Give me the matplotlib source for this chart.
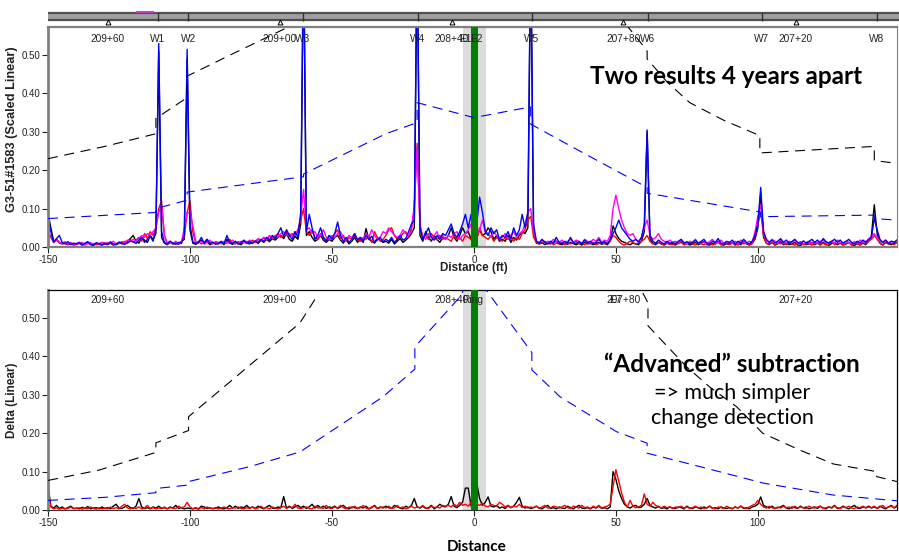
import numpy as np
import matplotlib
matplotlib.use("Agg")
import matplotlib.pyplot as plt

plt.rcParams['font.family'] = ['Liberation Sans', 'DejaVu Sans']
plt.rcParams['axes.unicode_minus'] = False

# distance grid (ft), one sample per foot
dist = np.arange(-150, 150)

# top panel traces, values in 1/1000 (scaled linear)
top_black = [
    88, 50, 15, 20, 12, 8, 10, 6, 9, 5,
    7, 10, 5, 8, 12, 6, 4, 9, 7, 5,
    8, 6, 10, 5, 7, 9, 12, 8, 15, 22,
    30, 15, 10, 25, 18, 12, 30, 20, 35, 510,
    25, 10, 6, 12, 8, 10, 7, 15, 20, 490,
    45, 10, 7, 12, 18, 8, 14, 6, 10, 9,
    8, 12, 6, 20, 10, 7, 12, 9, 6, 14,
    10, 8, 12, 15, 9, 18, 12, 20, 14, 22,
    18, 25, 30, 22, 35, 20, 15, 28, 20, 60,
    780, 30, 40, 25, 15, 20, 30, 18, 12, 20,
    15, 25, 30, 18, 10, 20, 8, 15, 25, 12,
    20, 12, 48, 20, 15, 10, 25, 18, 12, 15,
    10, 20, 8, 15, 22, 12, 18, 25, 35, 50,
    780, 30, 15, 40, 25, 15, 30, 20, 12, 25,
    20, 30, 50, 25, 15, 30, 50, 35, 40, 20,
    10, 25, 45, 30, 35, 50, 40, 20, 30, 15,
    20, 15, 30, 12, 25, 18, 30, 40, 35, 50,
    780, 40, 10, 8, 12, 6, 10, 8, 12, 15,
    8, 6, 10, 7, 12, 9, 6, 10, 5, 12,
    8, 10, 6, 9, 12, 7, 10, 6, 15, 55,
    35, 22, 15, 12, 8, 6, 10, 8, 6, 15,
    40, 300, 20, 10, 6, 12, 8, 5, 10, 7,
    9, 5, 12, 14, 6, 10, 5, 8, 12, 6,
    10, 14, 6, 5, 10, 8, 15, 6, 5, 9,
    8, 12, 5, 10, 6, 14, 8, 5, 10, 20,
    50, 140, 25, 10, 6, 12, 5, 8, 14, 6,
    10, 6, 8, 12, 5, 4, 9, 6, 8, 12,
    6, 10, 5, 12, 8, 4, 9, 12, 6, 10,
    5, 8, 12, 6, 4, 9, 5, 10, 6, 15,
    30, 110, 35, 10, 5, 12, 8, 6, 9, 12,
]
top_blue = [
    75, 40, 12, 22, 30, 12, 8, 14, 6, 10,
    8, 12, 6, 10, 14, 7, 5, 11, 9, 6,
    10, 7, 12, 8, 6, 13, 9, 7, 11, 15,
    14, 9, 18, 25, 12, 20, 28, 15, 45, 530,
    40, 12, 8, 15, 10, 7, 12, 9, 30, 515,
    60, 14, 8, 12, 25, 10, 20, 9, 13, 7,
    10, 14, 8, 30, 12, 9, 15, 8, 11, 18,
    10, 14, 9, 16, 12, 20, 15, 25, 18, 30,
    22, 35, 50, 28, 45, 30, 20, 40, 25, 90,
    800, 40, 85, 50, 20, 30, 50, 25, 15, 30,
    20, 35, 65, 30, 15, 25, 12, 20, 35, 18,
    25, 15, 30, 20, 28, 12, 18, 25, 14, 20,
    15, 25, 12, 20, 30, 18, 22, 40, 60, 70,
    800, 50, 20, 35, 50, 25, 18, 30, 20, 35,
    30, 45, 60, 35, 25, 40, 60, 85, 50, 85,
    10, 60, 130, 90, 40, 30, 50, 35, 45, 20,
    30, 25, 40, 20, 50, 30, 45, 85, 50, 90,
    800, 60, 15, 10, 20, 12, 8, 15, 10, 25,
    12, 8, 15, 10, 25, 12, 9, 14, 8, 18,
    10, 15, 8, 12, 20, 10, 14, 8, 20, 35,
    50, 70, 50, 40, 30, 20, 15, 20, 12, 25,
    60, 305, 30, 15, 10, 18, 12, 8, 15, 10,
    12, 8, 15, 20, 10, 14, 8, 12, 18, 10,
    14, 20, 10, 8, 15, 12, 22, 10, 8, 14,
    12, 18, 8, 15, 10, 20, 12, 8, 15, 30,
    60, 155, 40, 20, 12, 18, 10, 15, 22, 12,
    18, 10, 14, 20, 12, 8, 16, 10, 14, 20,
    12, 18, 10, 22, 14, 10, 15, 20, 12, 18,
    10, 14, 20, 12, 8, 15, 10, 18, 12, 20,
    25, 75, 45, 20, 12, 18, 10, 15, 12, 18,
]
top_red = [
    35, 25, 12, 18, 10, 8, 12, 6, 10, 8,
    6, 12, 8, 5, 10, 7, 9, 6, 8, 12,
    10, 8, 14, 6, 9, 12, 8, 15, 10, 20,
    12, 18, 25, 15, 35, 22, 40, 30, 50, 100,
    120, 30, 10, 15, 8, 12, 10, 15, 25, 90,
    120, 40, 10, 15, 8, 12, 20, 10, 8, 12,
    10, 15, 8, 12, 20, 10, 8, 14, 10, 12,
    15, 10, 18, 12, 20, 15, 25, 18, 30, 22,
    28, 35, 25, 30, 40, 28, 35, 30, 45, 70,
    100, 40, 30, 45, 25, 20, 35, 25, 18, 30,
    25, 35, 45, 20, 30, 15, 25, 20, 30, 18,
    15, 25, 20, 30, 12, 40, 25, 15, 20, 30,
    45, 50, 30, 20, 25, 35, 40, 25, 50, 100,
    270, 60, 25, 30, 20, 35, 25, 18, 30, 20,
    25, 20, 15, 30, 20, 25, 15, 30, 25, 20,
    5, 20, 50, 30, 25, 20, 30, 15, 25, 20,
    15, 25, 20, 30, 15, 25, 20, 35, 45, 70,
    80, 25, 12, 8, 10, 15, 8, 12, 6, 10,
    8, 12, 6, 10, 8, 12, 15, 8, 10, 6,
    10, 8, 12, 6, 9, 12, 8, 10, 15, 30,
    25, 15, 8, 5, 10, 15, 12, 8, 10, 15,
    20, 30, 15, 8, 10, 12, 8, 6, 10, 8,
    6, 10, 8, 12, 6, 9, 12, 8, 5, 10,
    8, 6, 12, 10, 5, 8, 12, 6, 10, 8,
    6, 10, 8, 5, 12, 8, 10, 6, 8, 25,
    60, 90, 30, 10, 8, 12, 6, 10, 8, 12,
    6, 10, 8, 5, 9, 12, 6, 8, 10, 5,
    8, 12, 6, 10, 5, 8, 12, 6, 9, 10,
    6, 8, 12, 5, 10, 8, 6, 12, 8, 15,
    20, 30, 20, 10, 6, 12, 8, 10, 6, 12,
]
top_magenta = [
    35, 30, 15, 20, 12, 10, 14, 8, 12, 6,
    10, 8, 12, 6, 9, 12, 7, 10, 8, 12,
    8, 12, 10, 15, 8, 10, 14, 12, 18, 15,
    20, 15, 22, 30, 25, 35, 30, 40, 50, 90,
    110, 30, 8, 12, 10, 15, 8, 12, 50, 88,
    90, 55, 15, 10, 15, 8, 12, 18, 10, 14,
    12, 8, 15, 10, 12, 18, 10, 8, 15, 12,
    10, 18, 12, 15, 22, 18, 25, 20, 28, 25,
    30, 25, 35, 40, 30, 35, 28, 40, 35, 80,
    150, 45, 50, 35, 40, 25, 30, 45, 25, 20,
    30, 25, 35, 40, 25, 20, 30, 25, 35, 20,
    25, 20, 35, 25, 45, 30, 20, 25, 40, 35,
    50, 40, 30, 25, 30, 45, 35, 30, 40, 110,
    260, 50, 30, 20, 35, 25, 30, 40, 20, 30,
    20, 30, 25, 35, 40, 20, 30, 35, 45, 60,
    10, 30, 45, 70, 40, 35, 25, 40, 30, 20,
    25, 35, 20, 30, 40, 25, 35, 40, 60, 90,
    100, 40, 15, 12, 18, 10, 15, 12, 20, 15,
    12, 18, 10, 15, 20, 12, 18, 15, 10, 20,
    15, 12, 20, 15, 25, 12, 18, 15, 30, 100,
    135, 100, 70, 50, 35, 30, 35, 20, 15, 25,
    50, 70, 30, 20, 25, 35, 20, 15, 12, 18,
    12, 15, 10, 18, 12, 8, 15, 12, 20, 10,
    15, 12, 8, 14, 20, 10, 12, 18, 10, 15,
    12, 10, 15, 8, 18, 12, 10, 15, 12, 40,
    80, 110, 40, 18, 12, 20, 15, 10, 18, 12,
    10, 15, 12, 18, 10, 14, 8, 12, 15, 10,
    12, 10, 15, 18, 10, 12, 15, 10, 18, 12,
    10, 15, 12, 8, 14, 10, 18, 12, 15, 20,
    28, 35, 25, 15, 12, 18, 10, 15, 12, 18,
]

# bottom panel traces (delta), values in 1/1000
bot_black = [
    65, 10, 5, 12, 4, 8, 3, 6, 10, 4,
    5, 3, 7, 4, 9, 3, 5, 6, 3, 8,
    4, 6, 3, 10, 15, 5, 4, 8, 12, 6,
    4, 10, 30, 8, 4, 6, 3, 8, 5, 10,
    4, 6, 3, 8, 5, 12, 4, 6, 3, 5,
    4, 3, 6, 2, 10, 8, 4, 6, 3, 5,
    8, 4, 3, 6, 12, 5, 10, 4, 8, 6,
    12, 5, 8, 4, 10, 6, 3, 8, 12, 5,
    4, 8, 6, 35, 5, 10, 4, 8, 12, 6,
    10, 4, 8, 15, 5, 12, 6, 10, 4, 8,
    6, 10, 4, 8, 12, 5, 3, 8, 6, 4,
    8, 5, 10, 3, 6, 12, 4, 8, 5, 10,
    6, 4, 12, 8, 5, 3, 10, 6, 12, 30,
    8, 5, 10, 4, 6, 12, 3, 8, 15, 10,
    8, 15, 35, 10, 6, 12, 20, 57, 57, 10,
    5, 70, 30, 12, 20, 34, 10, 8, 12, 5,
    8, 4, 12, 6, 10, 20, 33, 10, 5, 8,
    4, 6, 10, 5, 3, 8, 12, 4, 6, 3,
    8, 5, 4, 10, 6, 3, 8, 12, 5, 4,
    6, 3, 8, 5, 10, 4, 6, 3, 8, 100,
    80, 50, 30, 15, 8, 5, 10, 12, 6, 8,
    15, 30, 12, 8, 5, 10, 4, 6, 3, 8,
    5, 4, 8, 6, 3, 10, 5, 4, 8, 6,
    3, 8, 5, 10, 4, 6, 3, 8, 5, 4,
    6, 3, 8, 5, 10, 4, 6, 3, 8, 10,
    15, 34, 12, 8, 5, 10, 4, 6, 8, 12,
    5, 3, 8, 6, 4, 10, 5, 8, 3, 6,
    8, 4, 10, 5, 3, 8, 6, 12, 4, 5,
    10, 6, 3, 8, 12, 5, 4, 8, 6, 10,
    5, 8, 4, 10, 6, 3, 8, 12, 5, 10,
]
bot_red = [
    40, 8, 3, 6, 2, 5, 3, 4, 8, 3,
    4, 6, 2, 5, 3, 8, 4, 2, 6, 3,
    5, 3, 8, 4, 6, 3, 10, 15, 5, 3,
    6, 4, 8, 3, 5, 12, 4, 6, 3, 5,
    4, 8, 3, 6, 5, 4, 10, 6, 8, 20,
    8, 3, 5, 4, 6, 3, 8, 5, 4, 6,
    3, 5, 8, 4, 3, 6, 5, 8, 4, 3,
    6, 4, 8, 3, 5, 10, 4, 6, 3, 8,
    5, 3, 6, 10, 4, 8, 6, 15, 5, 4,
    6, 8, 4, 3, 10, 5, 6, 4, 12, 5,
    4, 8, 5, 12, 6, 3, 8, 5, 10, 4,
    6, 12, 5, 3, 8, 10, 4, 6, 8, 5,
    10, 4, 6, 12, 5, 8, 3, 6, 10, 5,
    8, 6, 12, 5, 4, 10, 6, 8, 5, 12,
    10, 12, 8, 15, 10, 20, 12, 15, 10, 20,
    5, 15, 12, 18, 10, 8, 15, 12, 10, 20,
    15, 8, 12, 6, 10, 8, 15, 6, 10, 5,
    8, 6, 10, 4, 8, 12, 5, 6, 10, 8,
    5, 8, 12, 6, 4, 10, 8, 5, 12, 6,
    8, 4, 10, 6, 12, 5, 8, 10, 15, 60,
    105, 75, 45, 20, 8, 25, 10, 6, 8, 12,
    42, 15, 10, 20, 12, 8, 5, 10, 6, 8,
    4, 8, 6, 10, 5, 8, 4, 6, 10, 5,
    8, 4, 6, 10, 5, 3, 8, 6, 4, 10,
    6, 4, 8, 5, 10, 6, 4, 8, 12, 15,
    25, 15, 8, 5, 10, 6, 4, 8, 5, 10,
    6, 8, 4, 10, 5, 8, 6, 4, 10, 6,
    5, 8, 10, 4, 6, 8, 5, 10, 6, 4,
    8, 6, 10, 5, 4, 8, 6, 10, 5, 8,
    6, 10, 4, 8, 12, 5, 8, 10, 6, 12,
]

# threshold curves (dashed), nan = leaves the plot
nan = np.nan
top_thr_black_x = [-150, -130, -112, -112, -101, -101, -85, -62, nan,
                   50, 54.6, 59.2, 61, 61, 68, 76, 88, 100.7, 100.7, 141, 141, 149]
top_thr_black_y = [0.230, 0.262, 0.295, 0.335, 0.389, 0.445, 0.503, 0.585, nan,
                   0.615, 0.57, 0.528, 0.51, 0.49, 0.43, 0.376, 0.33, 0.29, 0.245, 0.262, 0.225, 0.218]
top_thr_blue_x = [-150, -112, -112, -101, -101, -60, -60, -31, -20, -20, 0, 20, 20,
                  39, 61, 61, 101, 101, 141, 141, 149]
top_thr_blue_y = [0.074, 0.090, 0.100, 0.122, 0.143, 0.183, 0.19, 0.295, 0.324, 0.376, 0.337,
                  0.365, 0.32, 0.243, 0.155, 0.14, 0.091, 0.079, 0.083, 0.074, 0.070]
bot_thr_black_x = [-150, -132, -112, -112, -100.5, -100.5, -61.3, -55, nan,
                   56, 59.5, 61.3, 61.3, 64.3, 74.9, 83.1, 92.5, 101.7, 114.8, 126.5,
                   141.8, 141.8, 149]
bot_thr_black_y = [0.077, 0.104, 0.150, 0.175, 0.207, 0.243, 0.487, 0.56, nan,
                   0.60, 0.565, 0.54, 0.48, 0.456, 0.373, 0.32, 0.269, 0.20, 0.156, 0.12,
                   0.100, 0.087, 0.074]
bot_thr_blue_x = [-150, -130, -112, -112, -100.5, -100.5, -79, -61.3, -32, -20.8, -20.8,
                  -4.9, -2.5, nan, 3, 4.6, 20.4, 20.4, 30.3, 39.7, 50.2, 61, 61,
                  79.6, 101.9, 126.5, 149]
bot_thr_blue_y = [0.025, 0.033, 0.045, 0.056, 0.065, 0.074, 0.113, 0.151, 0.295, 0.367, 0.425,
                  0.555, 0.59, nan, 0.59, 0.57, 0.41, 0.365, 0.295, 0.252, 0.204, 0.174, 0.148,
                  0.113, 0.07, 0.039, 0.024]

# feature annotations
weld_pos = [-111.3, -100.6, -60.2, -19.7, 20.4, 61.3, 101.4, 141.9]
weld_names = ['W1', 'W2', 'W3', 'W4', 'W5', 'W6', 'W7', 'W8']
station_pos = [-128.9, -68.3, -7.7, 52.6, 113.4]
station_names = ['209+60', '209+00', '208+40', '207+80', '207+20']
top_extra_pos = [-3.0, 0.7]
top_extra_names = ['E1', 'E2']
bot_extra_pos = [-0.5, 49.8]
bot_extra_names = ['Ring', 'E7']

W, H = 899, 559
fig = plt.figure(figsize=(W / 100, H / 100), dpi=100)


def px_axes(l, t, r, b):
    return fig.add_axes([l / W, 1 - b / H, (r - l) / W, (b - t) / H])


ax1 = px_axes(48, 27, 897, 247)
ax2 = px_axes(48, 290, 897, 510)
strip = px_axes(48, 10, 899, 27)

XMIN, XMAX = -150, 149
dash = dict(lw=0.8, dashes=(9, 6))

for ax in (ax1, ax2):
    ax.set_xlim(XMIN, XMAX)
    ax.set_ylim(0, 0.573)
    ax.axvspan(-4, 4.2, color='#dcdcdc', zorder=0, lw=0)
    ax.axvspan(-1.2, 1.3, color='#008000', zorder=3, lw=0)
    ax.set_xticks([-150, -100, -50, 0, 50, 100])
    ax.set_yticks([0, 0.1, 0.2, 0.3, 0.4, 0.5])
    ax.yaxis.set_major_formatter(plt.FormatStrFormatter('%.2f'))
    ax.tick_params(labelsize=7, length=4, width=0.8, pad=1.5, colors='#222222')
    ax.spines['left'].set_color('#808080')
    ax.spines['left'].set_linewidth(2)

for sp in ('top', 'bottom', 'right'):
    ax1.spines[sp].set_color('#808080')
ax1.spines['top'].set_linewidth(1.6)
ax1.spines['bottom'].set_linewidth(1.6)
ax1.spines['right'].set_linewidth(0.8)
ax2.spines['bottom'].set_color('#333333')
ax2.spines['top'].set_linewidth(0.9)
ax2.spines['right'].set_linewidth(0.9)

# top panel
sc = 0.001
ax1.plot(dist, np.array(top_black) * sc, color='black', lw=1.0, zorder=2)
ax1.plot(dist, np.array(top_red) * sc, color='#ff0000', lw=1.0, zorder=2)
ax1.plot(dist, np.array(top_magenta) * sc, color='#ff00ff', lw=1.0, zorder=2)
ax1.plot(dist, np.array(top_blue) * sc, color='#0000ff', lw=1.0, zorder=2)
ax1.plot(top_thr_black_x, top_thr_black_y, color='black', zorder=4, **dash)
ax1.plot(top_thr_blue_x, top_thr_blue_y, color='#0000ff', zorder=4, **dash)

for x, s in zip(station_pos + weld_pos + top_extra_pos,
                station_names + weld_names + top_extra_names):
    ax1.text(x, 0.543, s, ha='center', va='center', fontsize=7.3, color='#222222', zorder=5)

# bottom panel
ax2.plot(dist, np.array(bot_black) * sc, color='black', lw=1.0, zorder=2)
ax2.plot(dist, np.array(bot_red) * sc, color='#ff0000', lw=1.0, zorder=2)
ax2.plot(bot_thr_black_x, bot_thr_black_y, color='black', zorder=4, **dash)
ax2.plot(bot_thr_blue_x, bot_thr_blue_y, color='#0000ff', zorder=4, **dash)

for x, s in zip(station_pos + bot_extra_pos, station_names + bot_extra_names):
    ax2.text(x, 0.547, s, ha='center', va='center', fontsize=7.3, color='#222222', zorder=5)

# strip above the top panel
strip.set_xlim(XMIN, XMIN + 851 / 2.84)
strip.set_ylim(0, 1)
strip.axis('off')
strip.axhspan(0.35, 0.88, color='#a0a0a0', lw=0)
strip.axhline(0.82, color='#505050', lw=1.6)
strip.axhline(0.40, color='#505050', lw=1.6)
strip.vlines(weld_pos, 0.38, 0.85, color='#303030', lw=1.0)
strip.plot([-118.7, -113.2], [0.86, 0.86], color='#c040c0', lw=1.5)
strip.plot(station_pos, [0.30] * len(station_pos), ls='none', marker='^', ms=3.5,
           mfc='none', mec='black', mew=0.7, clip_on=False)

# axis labels and notes
fig.text(12 / W, 1 - 129 / H, 'G3-51#1583 (Scaled Linear)', rotation=90, ha='center',
         va='center', fontsize=9.2, fontweight='bold', color='#222222')
fig.text(12 / W, 1 - 400 / H, 'Delta (Linear)', rotation=90, ha='center',
         va='center', fontsize=8.5, fontweight='bold', color='#222222')
fig.text(474 / W, 1 - 268 / H, 'Distance (ft)', ha='center', va='center',
         fontsize=8.4, fontweight='bold', color='#222222')
fig.text(477 / W, 1 - 547 / H, 'Distance', ha='center', va='center',
         fontsize=11, fontweight='bold', family=['Lato', 'DejaVu Sans'])

fig.text(726 / W, 1 - 77 / H, 'Two results 4 years apart', ha='center', va='center',
         fontsize=17.5, fontweight='bold', family=['Lato', 'DejaVu Sans'])
fig.text(732 / W, 1 - 365 / H, '\u201cAdvanced\u201d subtraction', ha='center', va='center',
         fontsize=17.5, fontweight='bold', family=['Lato', 'DejaVu Sans'])
fig.text(732 / W, 1 - 393 / H, '=> much simpler', ha='center', va='center',
         fontsize=15.5, family=['Lato', 'DejaVu Sans'])
fig.text(732 / W, 1 - 418 / H, 'change detection', ha='center', va='center',
         fontsize=15.5, family=['Lato', 'DejaVu Sans'])

fig.savefig('out.png', dpi=100)
